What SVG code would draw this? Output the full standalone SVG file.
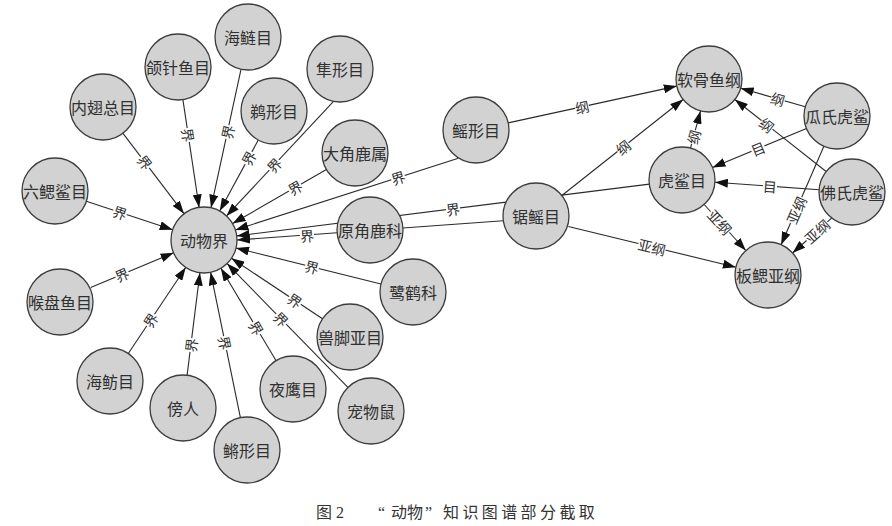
<svg xmlns="http://www.w3.org/2000/svg" width="892" height="526" viewBox="0 0 892 526">
<style>
.n circle{fill:#d2d2d2;stroke:#3c3c3c;stroke-width:1.3}
.n text{font-family:"Noto Sans CJK SC","Noto Sans CJK JP",sans-serif;font-size:16px;fill:#303030;text-anchor:middle;dominant-baseline:central}
.e line{stroke:#2a2a2a;stroke-width:1.1;marker-end:url(#ah)}
.l rect{fill:#fff}
.l text{font-family:"Noto Sans CJK SC","Noto Sans CJK JP",sans-serif;font-size:14px;fill:#303030;text-anchor:middle;dominant-baseline:central}
.cap{font-family:"Liberation Serif","Noto Sans CJK SC",serif;font-size:16px;fill:#333}
</style>
<defs>
<marker id="ah" markerUnits="userSpaceOnUse" markerWidth="13" markerHeight="9" refX="13" refY="4.5" orient="auto" viewBox="0 0 13 9">
<path d="M0,0 L13,4.5 L0,9 z" fill="#111"/>
</marker>
</defs>
<rect width="892" height="526" fill="#fff"/>
<g id="connectors" class="e">
<line x1="241.0" y1="69.3" x2="211.0" y2="207.7"/>
<line x1="182.9" y1="99.6" x2="199.1" y2="207.4"/>
<line x1="123.0" y1="133.3" x2="184.0" y2="213.7"/>
<line x1="333.3" y1="101.7" x2="226.5" y2="215.9"/>
<line x1="258.3" y1="140.0" x2="219.7" y2="211.0"/>
<line x1="326.4" y1="169.5" x2="232.6" y2="223.5"/>
<line x1="86.3" y1="201.3" x2="172.7" y2="229.7"/>
<line x1="90.7" y1="287.5" x2="173.6" y2="252.8"/>
<line x1="381.0" y1="284.0" x2="236.0" y2="248.0"/>
<line x1="322.5" y1="318.7" x2="231.5" y2="258.3"/>
<line x1="128.3" y1="353.5" x2="185.7" y2="267.5"/>
<line x1="187.1" y1="375.3" x2="199.9" y2="272.7"/>
<line x1="276.1" y1="360.7" x2="220.9" y2="268.3"/>
<line x1="347.9" y1="387.4" x2="227.1" y2="263.6"/>
<line x1="240.4" y1="417.7" x2="210.6" y2="272.3"/>
<line x1="458.3" y1="158.3" x2="235.4" y2="229.9"/>
<line x1="503.2" y1="220.8" x2="237.0" y2="240.0"/>
<line x1="649.3" y1="184.1" x2="236.7" y2="235.9"/>
<line x1="508.2" y1="122.9" x2="676.8" y2="86.1"/>
<line x1="561.9" y1="195.5" x2="683.1" y2="99.5"/>
<line x1="690.5" y1="148.1" x2="700.5" y2="110.9"/>
<line x1="805.3" y1="106.8" x2="740.7" y2="88.2"/>
<line x1="826.1" y1="171.5" x2="734.9" y2="99.5"/>
<line x1="806.5" y1="128.6" x2="712.5" y2="167.4"/>
<line x1="819.1" y1="189.7" x2="714.9" y2="182.3"/>
<line x1="704.2" y1="204.5" x2="745.8" y2="250.5"/>
<line x1="823.9" y1="146.3" x2="781.1" y2="244.7"/>
<line x1="833.3" y1="216.7" x2="792.6" y2="253.0"/>
<line x1="568.3" y1="226.5" x2="735.9" y2="267.2"/>
<g class="l">
<g transform="translate(227.5,132) rotate(-77.8)"><rect x="-7" y="-7" width="14" height="14"/><text>界</text></g>
<g transform="translate(188.2,135) rotate(81.4)"><rect x="-7" y="-7" width="14" height="14"/><text>界</text></g>
<g transform="translate(145,162.3) rotate(52.8)"><rect x="-7" y="-7" width="14" height="14"/><text>界</text></g>
<g transform="translate(274.1,165) rotate(-46.9)"><rect x="-7" y="-7" width="14" height="14"/><text>界</text></g>
<g transform="translate(248.5,158) rotate(-61.5)"><rect x="-7" y="-7" width="14" height="14"/><text>界</text></g>
<g transform="translate(295,187.6) rotate(-29.9)"><rect x="-7" y="-7" width="14" height="14"/><text>界</text></g>
<g transform="translate(120,212.4) rotate(18.2)"><rect x="-7" y="-7" width="14" height="14"/><text>界</text></g>
<g transform="translate(122,274.4) rotate(-22.8)"><rect x="-7" y="-7" width="14" height="14"/><text>界</text></g>
<g transform="translate(312,266.9) rotate(14)"><rect x="-7" y="-7" width="14" height="14"/><text>界</text></g>
<g transform="translate(295,300.5) rotate(33.6)"><rect x="-7" y="-7" width="14" height="14"/><text>界</text></g>
<g transform="translate(150.5,320) rotate(-56.3)"><rect x="-7" y="-7" width="14" height="14"/><text>界</text></g>
<g transform="translate(190.9,345) rotate(-82.9)"><rect x="-7" y="-7" width="14" height="14"/><text>界</text></g>
<g transform="translate(256.6,328) rotate(59.2)"><rect x="-7" y="-7" width="14" height="14"/><text>界</text></g>
<g transform="translate(281.2,319) rotate(45.7)"><rect x="-7" y="-7" width="14" height="14"/><text>界</text></g>
<g transform="translate(225.1,343) rotate(78.4)"><rect x="-7" y="-7" width="14" height="14"/><text>界</text></g>
<g transform="translate(398,177.7) rotate(-17.8)"><rect x="-7" y="-7" width="14" height="14"/><text>界</text></g>
<g transform="translate(307,235.5) rotate(-4.1)"><rect x="-7" y="-7" width="14" height="14"/><text>界</text></g>
<g transform="translate(453,209) rotate(-7.2)"><rect x="-7" y="-7" width="14" height="14"/><text>界</text></g>
<g transform="translate(582,106.8) rotate(-12.3)"><rect x="-7" y="-7" width="14" height="14"/><text>纲</text></g>
<g transform="translate(623,147.1) rotate(-38.4)"><rect x="-7" y="-7" width="14" height="14"/><text>纲</text></g>
<g transform="translate(693.5,137) rotate(-75)"><rect x="-7" y="-7" width="14" height="14"/><text>纲</text></g>
<g transform="translate(778,98.9) rotate(16.1)"><rect x="-7" y="-7" width="14" height="14"/><text>纲</text></g>
<g transform="translate(767,124.8) rotate(38.3)"><rect x="-7" y="-7" width="14" height="14"/><text>纲</text></g>
<g transform="translate(758,148.6) rotate(-22.4)"><rect x="-7" y="-7" width="14" height="14"/><text>目</text></g>
<g transform="translate(770,186.2) rotate(4)"><rect x="-7" y="-7" width="14" height="14"/><text>目</text></g>
<g transform="translate(720,222) rotate(47.8)"><rect x="-14" y="-7" width="28" height="14"/><text>亚纲</text></g>
<g transform="translate(796.2,210) rotate(-66.5)"><rect x="-14" y="-7" width="28" height="14"/><text>亚纲</text></g>
<g transform="translate(817,231.2) rotate(-41.8)"><rect x="-14" y="-7" width="28" height="14"/><text>亚纲</text></g>
<g transform="translate(652,246.8) rotate(13.7)"><rect x="-14" y="-7" width="28" height="14"/><text>亚纲</text></g>
</g>
</g>
<g id="n-dongwujie" class="n"><circle cx="204" cy="240" r="33"/><text x="204" y="240">动物界</text></g>
<g id="n-hailianmu" class="n"><circle cx="248" cy="37" r="33"/><text x="248" y="37">海鲢目</text></g>
<g id="n-hezhenyumu" class="n"><circle cx="178" cy="67" r="33"/><text x="178" y="67">颌针鱼目</text></g>
<g id="n-neichizongmu" class="n"><circle cx="103" cy="107" r="33"/><text x="103" y="107">内翅总目</text></g>
<g id="n-sunxingmu" class="n"><circle cx="340" cy="69" r="33"/><text x="340" y="69">隼形目</text></g>
<g id="n-tixingmu" class="n"><circle cx="274" cy="111" r="33"/><text x="274" y="111">鹈形目</text></g>
<g id="n-dajiaolushu" class="n"><circle cx="355" cy="153" r="33"/><text x="355" y="153">大角鹿属</text></g>
<g id="n-liusaishamu" class="n"><circle cx="55" cy="191" r="33"/><text x="55" y="191">六鳃鲨目</text></g>
<g id="n-yuanjiaoluke" class="n"><circle cx="370" cy="230" r="33"/><text x="370" y="230">原角鹿科</text></g>
<g id="n-houpanyumu" class="n"><circle cx="60" cy="302" r="33"/><text x="60" y="302">喉盘鱼目</text></g>
<g id="n-luheke" class="n"><circle cx="413" cy="292" r="33"/><text x="413" y="292">鹭鹤科</text></g>
<g id="n-shoujiaoyamu" class="n"><circle cx="350" cy="337" r="33"/><text x="350" y="337">兽脚亚目</text></g>
<g id="n-haifangmu" class="n"><circle cx="110" cy="381" r="33"/><text x="110" y="381">海鲂目</text></g>
<g id="n-bangren" class="n"><circle cx="183" cy="408" r="33"/><text x="183" y="408">傍人</text></g>
<g id="n-yeyingmu" class="n"><circle cx="293" cy="389" r="33"/><text x="293" y="389">夜鹰目</text></g>
<g id="n-chongwushu" class="n"><circle cx="371" cy="411" r="33"/><text x="371" y="411">宠物鼠</text></g>
<g id="n-jiangxingmu" class="n"><circle cx="247" cy="450" r="33"/><text x="247" y="450">鳉形目</text></g>
<g id="n-yaoxingmu" class="n"><circle cx="476" cy="130" r="33"/><text x="476" y="130">鳐形目</text></g>
<g id="n-juyaomu" class="n"><circle cx="536" cy="216" r="33"/><text x="536" y="216">锯鳐目</text></g>
<g id="n-ruanguyugang" class="n"><circle cx="709" cy="79" r="33"/><text x="709" y="79">软骨鱼纲</text></g>
<g id="n-guashihusha" class="n"><circle cx="837" cy="116" r="33"/><text x="837" y="116">瓜氏虎鲨</text></g>
<g id="n-hushamu" class="n"><circle cx="682" cy="180" r="33"/><text x="682" y="180">虎鲨目</text></g>
<g id="n-foshihusha" class="n"><circle cx="852" cy="192" r="33"/><text x="852" y="192">佛氏虎鲨</text></g>
<g id="n-bansaiyagang" class="n"><circle cx="768" cy="275" r="33"/><text x="768" y="275">板鳃亚纲</text></g>
<text class="cap" y="518"><tspan x="316">图 2</tspan><tspan x="378">“</tspan><tspan x="391">动物</tspan><tspan x="425">”</tspan><tspan x="443" letter-spacing="3.4">知识图谱部分截取</tspan></text>
</svg>
